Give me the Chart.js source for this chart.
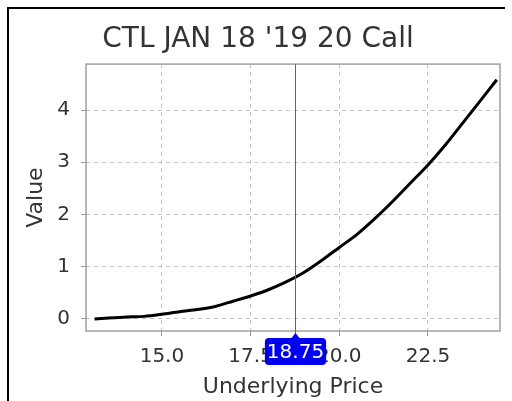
<!DOCTYPE html>
<html>
<head>
<meta charset="utf-8">
<script src="https://cdn.jsdelivr.net/npm/chart.js@4/dist/chart.umd.min.js"></script>
<style>
  html, body { margin: 0; padding: 0; background: #fff; overflow: hidden; }
  #chart { display: block; }
</style>
</head>
<body>
<canvas id="chart" width="512" height="401"></canvas>
<script>
// option value curve
const chartTitle = "CTL JAN 18 '19 20 Call";
const prices = [13.1, 13.5, 14.0, 14.5, 15.0, 15.5, 16.0, 16.5, 17.0, 17.5, 18.0, 18.5,
                19.0, 19.5, 20.0, 20.5, 21.0, 21.5, 22.0, 22.5, 23.0, 23.5, 24.0, 24.44];
const values = [0.0, 0.02, 0.04, 0.05, 0.09, 0.14, 0.18, 0.24, 0.34, 0.44, 0.56, 0.71,
                0.89, 1.12, 1.37, 1.62, 1.92, 2.25, 2.60, 2.95, 3.34, 3.77, 4.20, 4.58];
const xTickValues = [15.0, 17.5, 20.0, 22.5];
const yTickValues = [0, 1, 2, 3, 4];
const markerPrice = 18.75;

const font = 'DejaVu Sans';

// outer frame, plot frame and current price marker
const markerPlugin = {
  id: 'marker',
  beforeDraw(chart) {
    const { ctx, width, height } = chart;
    ctx.save();
    ctx.fillStyle = '#fff';
    ctx.fillRect(0, 0, width, height);
    ctx.fillStyle = '#000';
    ctx.fillRect(7, 7, width - 14, 2);
    ctx.fillRect(7, 7, 2, height - 7);
    ctx.restore();
  },
  beforeDatasetsDraw(chart) {
    const { ctx, chartArea: a } = chart;
    ctx.save();
    ctx.strokeStyle = '#a0a0a0';
    ctx.lineWidth = 1.5;
    ctx.strokeRect(a.left, a.top, a.right - a.left, a.bottom - a.top);
    ctx.restore();
  },
  afterDraw(chart) {
    const { ctx, chartArea: a } = chart;
    const x = Math.round(chart.scales.x.getPixelForValue(markerPrice)) + 0.5;
    ctx.save();
    ctx.strokeStyle = '#666';
    ctx.lineWidth = 1;
    ctx.beginPath();
    ctx.moveTo(x, a.top);
    ctx.lineTo(x, a.bottom + 3);
    ctx.stroke();

    // label box
    const label = markerPrice.toFixed(2);
    ctx.font = '20px ' + font;
    const w = ctx.measureText(label).width + 4;
    const h = 27, top = a.bottom + 7;
    ctx.fillStyle = '#0000f0';
    ctx.beginPath();
    ctx.moveTo(x - 4, top);
    ctx.lineTo(x, top - 5);
    ctx.lineTo(x + 4, top);
    ctx.fill();
    ctx.beginPath();
    ctx.roundRect(x - w / 2, top, w, h, 4);
    ctx.fill();
    ctx.fillStyle = '#fff';
    ctx.textAlign = 'center';
    ctx.textBaseline = 'middle';
    ctx.fillText(label, x, top + h / 2 + 1);
    ctx.restore();
  }
};

new Chart(document.getElementById('chart'), {
  type: 'line',
  data: {
    datasets: [{
      data: prices.map((p, i) => ({ x: p, y: values[i] })),
      borderColor: '#000',
      borderWidth: 3,
      pointRadius: 0,
      tension: 0.3,
      fill: false
    }]
  },
  options: {
    responsive: false,
    animation: false,
    layout: { padding: { left: 16, right: 12, top: 0, bottom: 0 } },
    plugins: {
      legend: { display: false },
      tooltip: { enabled: false },
      title: {
        display: true,
        text: chartTitle,
        color: '#333',
        font: { family: font, size: 28, weight: 'normal' },
        padding: { top: 22.5, bottom: 8 }
      }
    },
    scales: {
      x: {
        type: 'linear',
        min: 12.86,
        max: 24.53,
        afterBuildTicks: s => { s.ticks = xTickValues.map(v => ({ value: v })); },
        afterFit: s => { s.height = 70; },
        ticks: {
          color: '#333',
          font: { family: font, size: 20 },
          padding: 9,
          maxRotation: 0,
          callback: v => Number(v).toFixed(1)
        },
        grid: { color: '#c4c4c4', tickColor: '#999', tickLength: 5, lineWidth: 1 },
        border: { display: false, dash: [4, 4] },
        title: {
          display: true,
          text: 'Underlying Price',
          color: '#333',
          font: { family: font, size: 22 },
          padding: { top: 0, bottom: 0.5 }
        }
      },
      y: {
        min: -0.23,
        max: 4.88,
        afterBuildTicks: s => { s.ticks = yTickValues.map(v => ({ value: v })); },
        afterFit: s => { s.width = 70; },
        ticks: {
          color: '#333',
          font: { family: font, size: 20 },
          padding: 11
        },
        grid: { color: '#c4c4c4', tickColor: '#999', tickLength: 5, lineWidth: 1 },
        border: { display: false, dash: [4, 4] },
        title: {
          display: true,
          text: 'Value',
          color: '#333',
          font: { family: font, size: 22 },
          padding: { top: 7, bottom: 0 }
        }
      }
    }
  },
  plugins: [markerPlugin]
});
</script>
</body>
</html>
